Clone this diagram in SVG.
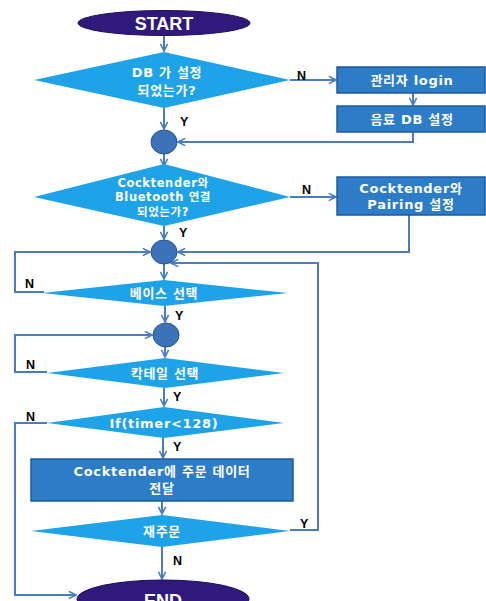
<svg xmlns="http://www.w3.org/2000/svg" width="486" height="601" viewBox="0 0 486 601">
<defs>
<marker id="ah" viewBox="0 0 10 10" refX="9" refY="5" markerWidth="9" markerHeight="9" markerUnits="userSpaceOnUse" orient="auto">
<path d="M1,1 L9,5 L1,9" fill="none" stroke="#4a7cc4" stroke-width="1.8"/>
</marker>
</defs>
<style>
.term{fill:#2f1a7c;stroke:#1c0f55;stroke-width:1}
.dia{fill:#1ea2e8}
.box{fill:#2c7cc8;stroke:#1d5a9c;stroke-width:1.5}
.jn{fill:#3c72b8;stroke:#2a5592;stroke-width:1}
.ln{fill:none;stroke:#4a7cc4;stroke-width:2}
.t{font-family:"DejaVu Sans","Noto Sans CJK KR",sans-serif;font-weight:bold;fill:#ffffff;font-size:13px;letter-spacing:0.7px;text-anchor:middle}
.s{font-size:11.5px;letter-spacing:0.6px}
.tt{font-family:"Liberation Sans","Noto Sans CJK KR",sans-serif;font-weight:bold;fill:#ffffff;font-size:18px;text-anchor:middle}
.lb{font-family:"Liberation Sans",sans-serif;font-weight:bold;fill:#000000;font-size:12.5px}
</style>
<rect width="486" height="601" fill="#ffffff"/>
<g id="connectors">
<line class="ln" x1="164" y1="36" x2="164" y2="51" marker-end="url(#ah)"/>
<line class="ln" x1="290" y1="80" x2="336" y2="80" marker-end="url(#ah)"/>
<line class="ln" x1="413" y1="93" x2="413" y2="105" marker-end="url(#ah)"/>
<line class="ln" x1="164" y1="108" x2="164" y2="129" marker-end="url(#ah)"/>
<polyline class="ln" points="413,132 413,142 178,142" marker-end="url(#ah)"/>
<line class="ln" x1="164" y1="154" x2="164" y2="166" marker-end="url(#ah)"/>
<line class="ln" x1="290" y1="197" x2="336" y2="197" marker-end="url(#ah)"/>
<line class="ln" x1="164" y1="226" x2="164" y2="239" marker-end="url(#ah)"/>
<polyline class="ln" points="409,215 409,252 178,252" marker-end="url(#ah)"/>
<polyline class="ln" points="44,292 15,292 15,252 150,252" marker-end="url(#ah)"/>
<polyline class="ln" points="290,530 318,530 318,263 171,263" marker-end="url(#ah)"/>
<line class="ln" x1="164" y1="264" x2="164" y2="279" marker-end="url(#ah)"/>
<line class="ln" x1="165" y1="306" x2="165" y2="322" marker-end="url(#ah)"/>
<polyline class="ln" points="47,372 15,372 15,335 152,335" marker-end="url(#ah)"/>
<line class="ln" x1="165" y1="347" x2="165" y2="357" marker-end="url(#ah)"/>
<line class="ln" x1="164" y1="388" x2="164" y2="406" marker-end="url(#ah)"/>
<polyline class="ln" points="47,423 15,423 15,595 76,595" marker-end="url(#ah)"/>
<line class="ln" x1="163" y1="438" x2="163" y2="458" marker-end="url(#ah)"/>
<line class="ln" x1="162" y1="501" x2="162" y2="514" marker-end="url(#ah)"/>
<line class="ln" x1="162" y1="547" x2="162" y2="579" marker-end="url(#ah)"/>
</g>
<g id="labels">
<text class="lb" x="297" y="80">N</text>
<text class="lb" x="180" y="126">Y</text>
<text class="lb" x="302" y="194">N</text>
<text class="lb" x="179" y="237">Y</text>
<text class="lb" x="25" y="288">N</text>
<text class="lb" x="175" y="320">Y</text>
<text class="lb" x="26" y="369">N</text>
<text class="lb" x="173" y="401">Y</text>
<text class="lb" x="26" y="421">N</text>
<text class="lb" x="173" y="451">Y</text>
<text class="lb" x="300" y="528">Y</text>
<text class="lb" x="173" y="565">N</text>
</g>
<g id="start">
<ellipse class="term" cx="164" cy="23" rx="86" ry="12.5"/>
<text class="tt" x="164" y="30">START</text>
</g>
<g id="d-db">
<polygon class="dia" points="164,52 290,80 164,108 34,80"/>
<text class="t" x="167" y="77">DB 가 설정</text>
<text class="t" x="167" y="95">되었는가?</text>
</g>
<g id="b-login">
<rect class="box" x="337" y="67" width="148" height="26"/>
<text class="t" x="412" y="85">관리자 login</text>
</g>
<g id="b-dbset">
<rect class="box" x="337" y="106" width="148" height="26"/>
<text class="t" x="412" y="124">음료 DB 설정</text>
</g>
<g id="j1">
<ellipse class="jn" cx="164" cy="142" rx="13" ry="12"/>
</g>
<g id="d-bt">
<polygon class="dia" points="164,164 290,197 164,226 34,197"/>
<text class="t s" x="163" y="187">Cocktender와</text>
<text class="t s" x="163" y="201">Bluetooth 연결</text>
<text class="t s" x="163" y="216">되었는가?</text>
</g>
<g id="b-pair">
<rect class="box" x="337" y="177" width="148" height="38"/>
<text class="t" x="411" y="193">Cocktender와</text>
<text class="t" x="411" y="209">Pairing 설정</text>
</g>
<g id="j2">
<ellipse class="jn" cx="164" cy="252" rx="13" ry="12"/>
</g>
<g id="d-base">
<polygon class="dia" points="164,280 288,293 164,306 42,293"/>
<text class="t" x="164" y="298">베이스 선택</text>
</g>
<g id="j3">
<ellipse class="jn" cx="166" cy="335" rx="13" ry="12"/>
</g>
<g id="d-cocktail">
<polygon class="dia" points="165,358 284,373 165,388 47,373"/>
<text class="t" x="165" y="378">칵테일 선택</text>
</g>
<g id="d-timer">
<polygon class="dia" points="164,407 284,423 164,438 47,423"/>
<text class="t" x="164" y="428">If(timer&lt;128)</text>
</g>
<g id="b-send">
<rect class="box" x="31" y="459" width="262" height="42"/>
<text class="t" x="162" y="476">Cocktender에 주문 데이터</text>
<text class="t" x="162" y="493">전달</text>
</g>
<g id="d-reorder">
<polygon class="dia" points="162,515 290,531 162,547 31,531"/>
<text class="t" x="162" y="536">재주문</text>
</g>
<g id="end">
<ellipse class="term" cx="163" cy="599" rx="86" ry="19"/>
<text class="tt" x="163" y="607">END</text>
</g>
</svg>
